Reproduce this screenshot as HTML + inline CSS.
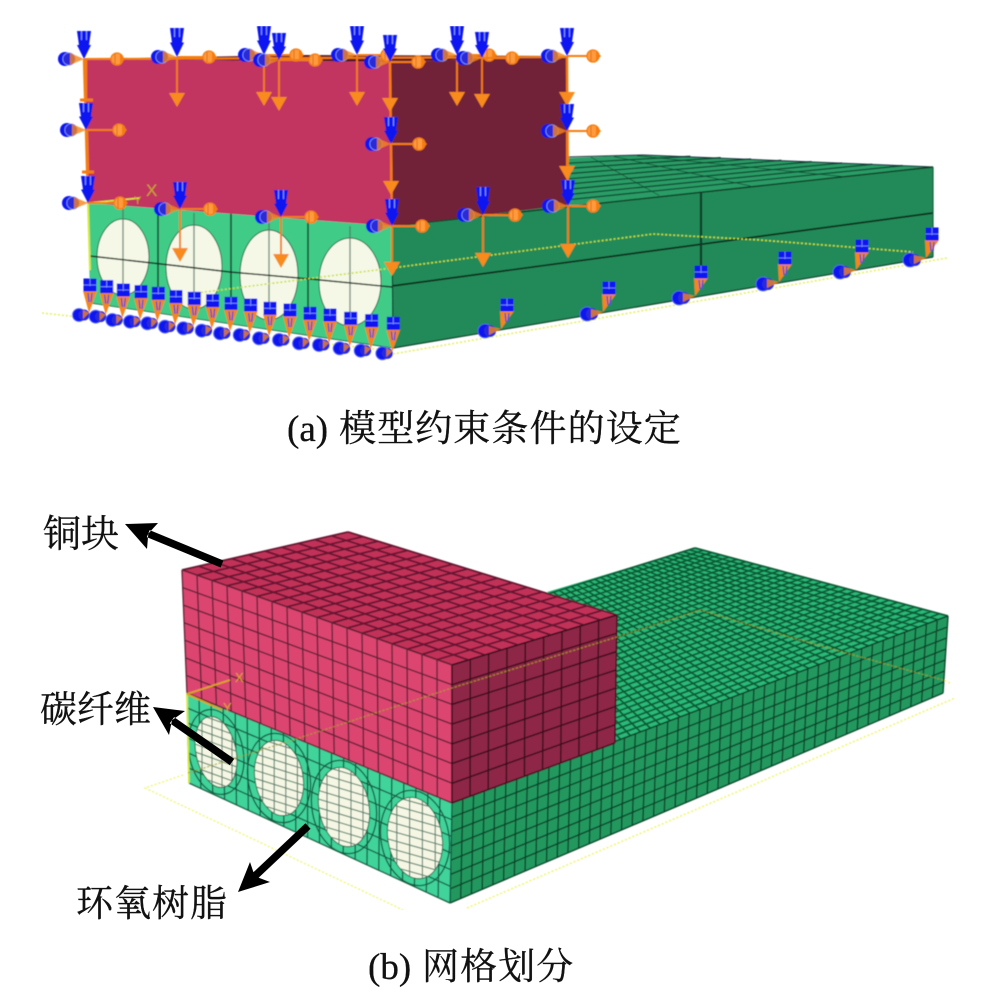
<!DOCTYPE html>
<html lang="zh"><head><meta charset="utf-8">
<style>
html,body{margin:0;padding:0;background:#fff;width:1000px;height:992px;overflow:hidden}
svg{display:block}
text{font-family:"Liberation Serif","Noto Serif CJK SC",serif;fill:#111;stroke:#111;stroke-width:.3}
#g text{stroke:none}
</style></head><body>
<svg id="s" xmlns="http://www.w3.org/2000/svg" width="1000" height="992" viewBox="0 0 1000 992">
<defs><filter id="b" x="0" y="0" width="1" height="1"><feGaussianBlur stdDeviation="0.5"/></filter></defs>
<g id="g" filter="url(#b)"></g>
<g id="arrows" fill="#000"></g>
<text x="287" y="441" font-size="37">(a) <tspan x="339" letter-spacing="1.1">模型约束条件的设定</tspan></text>
<text x="368" y="979" font-size="37">(b) <tspan x="422" letter-spacing="1.1">网格划分</tspan></text>
<text x="43" y="547" font-size="38">铜块</text>
<text x="40" y="722" font-size="37">碳纤维</text>
<text x="76" y="916" font-size="37" letter-spacing="1">环氧树脂</text>
</svg>
<script>
var h='';
function P(p){return p.map(function(a){return a[0].toFixed(1)+','+a[1].toFixed(1)}).join(' ')}
function poly(p,f,extra){h+='<polygon points="'+P(p)+'" fill="'+f+'" '+(extra||'')+'/>'}
function line(a,b,c,w,extra){h+='<line x1="'+a[0]+'" y1="'+a[1]+'" x2="'+b[0]+'" y2="'+b[1]+'" stroke="'+c+'" stroke-width="'+w+'" '+(extra||'')+'/>'}
function lerp(a,b,t){return [a[0]+(b[0]-a[0])*t,a[1]+(b[1]-a[1])*t]}
function grid(a,b,c,d,nu,nv,col,w,op){
  var s='';
  function f(n){return n.toFixed(1)}
  for(var i=0;i<=nu;i++){var p=lerp(a,b,i/nu),q=lerp(d,c,i/nu);s+='M'+f(p[0])+' '+f(p[1])+'L'+f(q[0])+' '+f(q[1])}
  for(var j=0;j<=nv;j++){var p=lerp(a,d,j/nv),q=lerp(b,c,j/nv);s+='M'+f(p[0])+' '+f(p[1])+'L'+f(q[0])+' '+f(q[1])}
  h+='<path d="'+s+'" fill="none" stroke="'+col+'" stroke-width="'+w+'" stroke-opacity="'+(op||1)+'"/>';
}
function dash(pts,c,w){h+='<polyline points="'+P(pts)+'" fill="none" stroke="'+c+'" stroke-width="'+(w||1.4)+'" stroke-dasharray="2 2"/>'}
var BL='#0a14f0',OR='#f57c0a';

/* ===== FIGURE A ===== */
var Y='#d8ea3c';
dash([[42,313],[393,351]],'#e4f060',1.6);
dash([[393,354],[947,258]],'#e4f060',1.6);
/* green top */
poly([[392,226],[933,167],[643,155],[440,163]],'#2a9c66');
for(var i=1;i<9;i++){var t=i/9;line(lerp([568,205],[568,158],t),lerp([933,167],[660,155],t),'#0f4a30',1.3)}
for(var i=1;i<4;i++){var t=i/4;line(lerp([568,205],[933,167],t),lerp([568,158],[660,155],t),'#0f4a30',.7)}
line([568,157],[643,155],'#123',1);line([643,155],[933,167],'#123',1);
/* green side */
poly([[392,226],[933,167],[933,257],[393,348]],'#238a58');
line([392,226],[933,167],'#0b3a24',1.4);
line([392,286],[933,213],'#0a2a1a',1.7);
line([701,193],[701,270],'#0e3b28',2.2);
line([933,167],[933,257],'#1a5a40',1.2);
line([393,348],[933,257],'#0d3d28',1.2);
/* green front */
poly([[88,203],[392,226],[393,348],[90,303]],'#41cc87');
[[123,257,26,38],[194,267,28,42],[269,275,29,45],[350,282,31,44]].forEach(function(e){
  h+='<ellipse cx="'+e[0]+'" cy="'+e[1]+'" rx="'+e[2]+'" ry="'+e[3]+'" fill="#f5f8e6" stroke="#2f6a4e" stroke-width="1"/>';
  line([e[0],e[1]-e[3]-12],[e[0],e[1]+e[3]],'#556d60',1.4,'stroke-opacity=".75"');
});
line([158,208],[158,300],'#123a28',1.5);line([231,212],[231,310],'#123a28',1.5);line([308,218],[308,325],'#123a28',1.5);
h+='<polyline points="90,256 170,265 230,272 310,279 392,287" fill="none" stroke="#12261c" stroke-width="1.4"/>';
line([392,226],[393,348],'#12362a',1.2);
line([393,348],[90,303],'#1a4a34',.8);
dash([[197,293],[392,268],[653,234],[760,240],[913,252]],'#c8e030',1.6);
/* red */
poly([[84,59],[300,55],[567,56],[390,62]],'#5a1428');
poly([[390,62],[567,56],[568,205],[392,226]],'#722237');
poly([[84,59],[390,62],[392,226],[88,203]],'#c13560');
line([88,203],[140,198],Y,1.6);line([88,203],[90,270],Y,2);
h+='<text x="146" y="196" font-size="17" style="font-family:\'Liberation Sans\',sans-serif;fill:#c8a22a">X</text>';
h+='<text x="134" y="204" font-size="11" style="font-family:\'Liberation Sans\',sans-serif;fill:#c8a22a">Y</text>';
line([84,59],[88,203],OR,2.4);line([390,62],[392,226],OR,2.4);line([567,56],[568,206],OR,2.4);line([84,59],[567,57],OR,2);

function coneD(x,y,len){
  poly([[x,y],[x-7,y-len*.5],[x-5,y-len*.5],[x-7,y-len],[x+7,y-len],[x+5,y-len*.5],[x+7,y-len*.5]],BL);
  line([x-2.5,y-len],[x-2.5,y-len+9],'#8ea4ff',.9);line([x+2.5,y-len],[x+2.5,y-len+9],'#8ea4ff',.9);
}
function leftS(x,y,d,r){
  var cx=x-d;
  h+='<circle cx="'+cx+'" cy="'+y+'" r="'+r+'" fill="'+BL+'"/>';
  h+='<circle cx="'+(cx+4)+'" cy="'+y+'" r="'+(r-.8)+'" fill="#2a2cd8" stroke="#8ea4ff" stroke-width=".7"/>';
  poly([[x,y],[cx+5,y-r+1],[cx+5,y+r-1]],'#f5851c','fill-opacity=".8"');
}
function rightS(x,y,l){
  line([x,y],[x+l,y],OR,1.9);
  h+='<circle cx="'+(x+l)+'" cy="'+y+'" r="6" fill="#ff9a3c" stroke="'+OR+'" stroke-width="1.3"/>';
  poly([[x+l+8,y],[x+l+3,y-5],[x+l+3,y+5]],OR);
  line([x+l-2,y-5],[x+l-2,y+5],'#d06000',.7);
}
function downS(x,y,l){line([x,y],[x,y+l-8],OR,1.9);poly([[x,y+l],[x-8,y+l-14],[x+8,y+l-14]],'#f98a1c');}
var N=[[84,59,28,0,33],[177,57,29,50,32],[264,55,29,51,32],[279,60,27,51,36],[357,55,29,51,30],[390,62,27,50,28],
[457,55,29,51,32],[482,58,26,50,30],[567,56,28,50,26],
[86,130,27,0,33],[391,144,27,51,28],[567,131,27,49,26],
[88,203,27,0,32],[180,209,27,53,30],[281,217,27,51,30],[392,226,27,50,30],[483,215,28,52,32],[568,206,26,52,25]];
N.forEach(function(n){ if(n[3]) downS(n[0],n[1],n[3]); });
line([86,60],[86,100],OR,2.4);line([80,100],[93,100],OR,3);line([87,131],[88,172],OR,2.4);line([82,172],[94,172],OR,3);
N.forEach(function(n){ rightS(n[0],n[1],n[4]); leftS(n[0],n[1],19,7); coneD(n[0],n[1],n[2]); });

/* bottom supports */
var bx=[180,230,280,333,385,438,493,548,603,662,720,780,840,900,962,1025,1090],by=[795,800,810,815,820,830,835,842,850,855,865,870,880,885,895,902,910];
function block(x,y){
  h+='<rect x="'+(x-6.5)+'" y="'+(y-6.5)+'" width="13" height="13" fill="'+BL+'"/>';
  line([x-6.5,y],[x+6.5,y],'#8ea4ff',.7);line([x,y-6.5],[x,y+1],'#8ea4ff',.7);
}
function support(x,y,dx,dy,cd,r){
  var tx=x+dx,ty=y+dy;
  h+='<circle cx="'+(tx-cd)+'" cy="'+(ty+2)+'" r="'+r+'" fill="'+BL+'" stroke="#5a6cff" stroke-width=".8"/>';
  h+='<circle cx="'+(tx-cd+5)+'" cy="'+(ty+2)+'" r="'+(r-1)+'" fill="#2a2cd8"/>';
  poly([[tx,ty],[tx-cd+4,ty-3],[tx-cd+4,ty+6]],'#f5851c','fill-opacity=".8"');
  poly([[tx,ty],[x-7,y+6],[x+7,y+6]],'#f5851c');
  line([x-2,y+8],[x-1,y+17],'#5048d8',1.4);line([x+2,y+8],[x+1,y+17],'#5048d8',1.4);
  block(x,y);
}
for(var i=0;i<bx.length;i++){support(bx[i]/3+30,by[i]/3+20,-1,28,10,6.5);}
[[507,305],[609,288],[701,272],[785,258],[862,246],[932,234]].forEach(function(p){support(p[0],p[1],-6,24,16,7);});

/* ===== FIGURE B ===== */
var G='#eef66a';
dash([[183,775],[145,788],[403,910]],G,1.3);
dash([[467,908],[955,698]],G,1.5);
dash([[950,683],[935,676]],G,1.3);
/* green top */
poly([[547,592],[695,548],[948,616],[615,743],[600,640]],'#2cba78');
grid([452,803],[948,616],[695,548],[400,640],50,30,'#0b5c36',1.8);
/* green right side */
poly([[452,803],[948,616],[943,693],[450,903]],'#23985f');
grid([452,803],[948,616],[943,693],[450,903],46,7,'#0a3f26',1.35);
/* green front */
poly([[187,693],[452,803],[450,903],[189,783]],'#41d39a');
grid([187,693],[452,803],[450,903],[189,783],22,6,'#145a40',1.3);
[[216,752,20,36,-12],[279,778,24,38,-10],[344,807,25,40,-10],[415,838,27,41,-10]].forEach(function(e,i){
  var tr='rotate('+e[4]+' '+e[0]+' '+e[1]+')';
  h+='<ellipse cx="'+e[0]+'" cy="'+e[1]+'" rx="'+(e[2]+7)+'" ry="'+(e[3]+7)+'" transform="'+tr+'" fill="none" stroke="#145a40" stroke-width="1.3"/>';
  h+='<ellipse cx="'+e[0]+'" cy="'+e[1]+'" rx="'+e[2]+'" ry="'+e[3]+'" transform="'+tr+'" fill="#f5f7e4" stroke="#1c6a4a" stroke-width="1"/>';
  h+='<clipPath id="c'+i+'"><ellipse cx="'+e[0]+'" cy="'+e[1]+'" rx="'+e[2]+'" ry="'+e[3]+'" transform="'+tr+'"/></clipPath><g clip-path="url(#c'+i+')">';
  grid([e[0]-e[2]-4,e[1]-e[3]-12],[e[0]+e[2]+6,e[1]-e[3]+6],[e[0]+e[2]+6,e[1]+e[3]+12],[e[0]-e[2]-4,e[1]+e[3]-6],5,10,'#5c7d6c',1.1);
  h+='</g>';
});
line([187,693],[189,783],'#d7e83a',1.8);
/* red faces */
poly([[182,570],[348,532],[617,615],[452,665]],'#c23259');
grid([182,570],[452,665],[617,615],[348,532],18,10,'#661830',1.8);
poly([[182,570],[452,665],[452,803],[187,693]],'#dc456f');
grid([182,570],[452,665],[452,803],[187,693],18,7,'#5e2034',1.35);
poly([[452,665],[617,615],[615,743],[452,803]],'#8e2846');
grid([452,665],[617,615],[615,743],[452,803],9,7,'#3e0f1e',1.5);
/* centre line and axes */
h+='<polyline points="188,773 293,740 452,688 617,637 700,610 800,640 943,680" fill="none" stroke="#a8a020" stroke-opacity=".75" stroke-width="1.3" stroke-dasharray="2.5 1.5"/>';
line([187,694],[230,680],'#d9a51c',1.8);line([187,694],[222,710],'#d9a51c',1.8);
h+='<text x="235" y="682" font-size="13" style="font-family:\'Liberation Sans\',sans-serif;fill:#d9a51c">X</text>';
h+='<text x="223" y="712" font-size="13" style="font-family:\'Liberation Sans\',sans-serif;fill:#d9a51c">Y</text>';
document.getElementById('g').innerHTML=h;

/* bold callout arrows */
function arrow(t,b1,b2,tail){
  var n=[t[0]+(tail[0]-t[0])*.24,t[1]+(tail[1]-t[1])*.24];
  var dx=tail[0]-t[0],dy=tail[1]-t[1],l=Math.hypot(dx,dy),px=-dy/l*3.8,py=dx/l*3.8;
  return '<polygon points="'+P([t,b1,n,[n[0]+px,n[1]+py],[tail[0]+px,tail[1]+py],[tail[0]-px,tail[1]-py],[n[0]-px,n[1]-py],n,b2])+'"/>';
}
document.getElementById('arrows').innerHTML=
 arrow([125,524],[158,523],[147,549],[222,564])+
 arrow([153,707],[185,711],[169,735],[232,762])+
 arrow([238,892],[270,882],[250,862],[308,826]);
</script>
</body></html>
